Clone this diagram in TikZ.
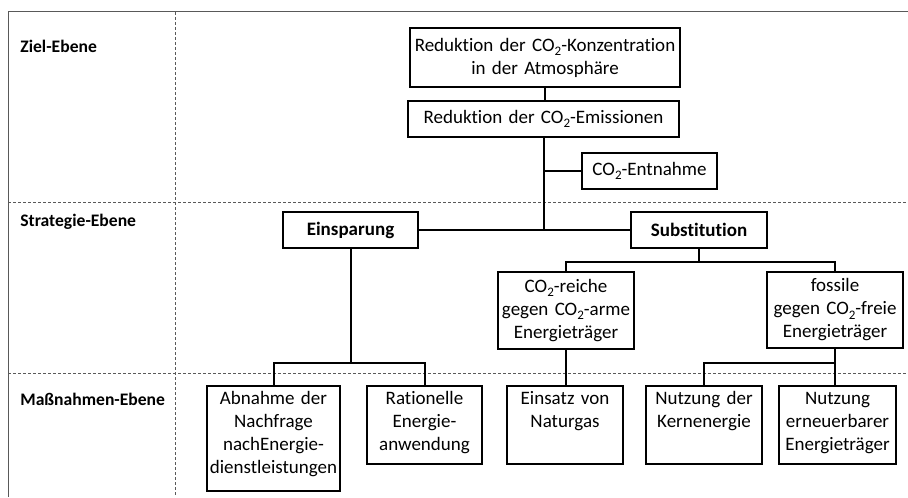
\documentclass[tikz,border=0pt]{standalone}
\usepackage{fontspec}
\setmainfont{Carlito}[Ligatures = NoCommon]
\usepackage{tikz}
\usepackage{xcolor}
\colorlet{gridgrey}{black!65}
\newcommand{\cotwo}{CO\raisebox{-0.45ex}{\fontsize{6.5}{7}\selectfont 2}}
\newcommand{\boxfont}{\fontsize{9.5}{11.5}\selectfont}

\begin{document}
\begin{tikzpicture}[x = 0.5pt, y = -0.5pt,
                tbox/.style = {draw, line width = 0.8pt, align = center, inner sep = 0pt, font = \boxfont},
                mbox/.style = {draw, line width = 0.8pt, align = center, anchor = north,
                               inner xsep = 0pt, inner ysep = 2pt, text height = 7.5pt, font = \boxfont},
                level/.style = {anchor = west, inner sep = 0pt, font = \fontsize{8.8}{10}\selectfont\bfseries},
                link/.style = {line width = 1pt},
                grid/.style = {color = gridgrey, line width = 0.5pt, dash pattern = on 1.5pt off 1pt}]%{{{
                \useasboundingbox (0, 0) rectangle (908, 497);

                \draw [color = gridgrey, line width = 0.5pt] (8, 497) -- (8, 12) -- (908, 12);
                \draw [grid] (175, 12) -- (175, 497);
                \draw [grid] (8, 202) -- (908, 202);
                \draw [grid] (8, 373) -- (908, 373);

                \node (ZielLabel) [level] at (20, 46) { Ziel-Ebene };
                \node (StratLabel) [level] at (20, 222) { Strategie-Ebene };
                \node (MassLabel) [level] at (20, 399) { Maßnahmen-Ebene };

                \node (KonzAtmo) [tbox, text width = 135pt, minimum height = 29.5pt] at (545, 57.5) { Reduktion der \cotwo-Konzentration\\in der Atmosphäre };
                \node (Emis) [tbox, text width = 135.5pt, minimum height = 18pt] at (543.5, 119) { Reduktion der \cotwo-Emissionen };
                \node (Entn) [tbox, text width = 67.5pt, minimum height = 18pt] at (649.5, 171) { \cotwo-Entnahme };
                \node (Einsp) [tbox, text width = 67.5pt, minimum height = 18pt, font = \boxfont\bfseries] at (350.5, 230) { Einsparung };
                \node (Subst) [tbox, text width = 68pt, minimum height = 18pt, font = \boxfont\bfseries] at (699, 230) { Substitution };
                \node (Reiche) [tbox, text width = 68pt, minimum height = 38.5pt] at (566, 310.5) { \cotwo-reiche\\gegen \cotwo-arme\\Energieträger };
                \node (Fossil) [tbox, text width = 68pt, minimum height = 38pt] at (835, 310) { fossile\\gegen \cotwo-freie\\Energieträger };

                \node (Abn) [mbox, text width = 66.5pt, text depth = 41pt] at (273.5, 385) { Abnahme der\\Nachfrage\\nachEnergie-\\dienstleistungen };
                \node (Rat) [mbox, text width = 57.5pt, text depth = 27.5pt] at (424.5, 385) { Rationelle\\Energie-\\anwendung };
                \node (Eins) [mbox, text width = 58pt, text depth = 27.5pt] at (565, 385) { Einsatz von\\Naturgas };
                \node (NKern) [mbox, text width = 58pt, text depth = 27.5pt] at (704, 385) { Nutzung der\\Kernenergie };
                \node (NErn) [mbox, text width = 58.5pt, text depth = 27.5pt] at (837.5, 385) { Nutzung\\erneuerbarer\\Energieträger };

                \coordinate (EinspFork) at (350.5, 363);
                \coordinate (SubstFork) at (699, 262);
                \coordinate (FossilFork) at (835, 363);

                \draw [link] (KonzAtmo.south) -- (KonzAtmo.south |- Emis.north);
                \draw [link] (Emis.south) -- (Emis.south |- Einsp.east);
                \draw [link] (Entn.west) -- (Entn.west -| Emis.south);
                \draw [link] (Einsp.east) -- (Subst.west);

                \draw [link] (Einsp.south) -- (EinspFork);
                \draw [link] (Abn.north) |- (EinspFork) -| (Rat.north);

                \draw [link] (Subst.south) -- (SubstFork);
                \draw [link] (Reiche.north) |- (SubstFork) -| (Fossil.north);
                \draw [link] (Reiche.south) -- (Reiche.south |- Eins.north);
                \draw [link] (Fossil.south) -- (Fossil.south |- NErn.north);
                \draw [link] (NKern.north) |- (FossilFork);
            \end{tikzpicture}
\end{document}
